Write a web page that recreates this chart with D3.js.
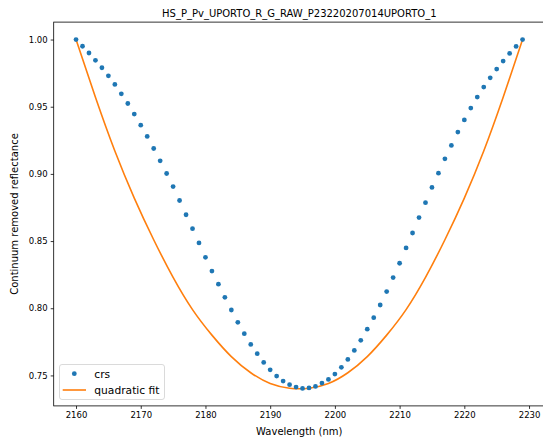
<!DOCTYPE html>
<html>
<head>
<meta charset="utf-8">
<script src="https://cdn.jsdelivr.net/npm/d3@7"></script>
<style>
  body { margin: 0; background: #fff; }
  svg { display: block; font-family: "DejaVu Sans", sans-serif; }
</style>
</head>
<body>
<div id="chart"></div>
<script>
// Wavelengths (nm) of the crs samples
const wavelengths = [
  2160, 2161, 2162, 2163, 2164, 2165, 2166, 2167, 2168, 2169,
  2170, 2171, 2172, 2173, 2174, 2175, 2176, 2177, 2178, 2179,
  2180, 2181, 2182, 2183, 2184, 2185, 2186, 2187, 2188, 2189,
  2190, 2191, 2192, 2193, 2194, 2195, 2196, 2197, 2198, 2199,
  2200, 2201, 2202, 2203, 2204, 2205, 2206, 2207, 2208, 2209,
  2210, 2211, 2212, 2213, 2214, 2215, 2216, 2217, 2218, 2219,
  2220, 2221, 2222, 2223, 2224, 2225, 2226, 2227, 2228, 2229
];

// Continuum removed reflectance
const crsValues = [
  1.000, 0.995, 0.990, 0.9845, 0.979, 0.973, 0.9666, 0.9596, 0.9524, 0.9445,
  0.9363, 0.9279, 0.9189, 0.9097, 0.9003, 0.8906, 0.8802, 0.8696, 0.8592, 0.8486,
  0.8379, 0.8277, 0.8179, 0.8081, 0.7987, 0.7895, 0.7811, 0.7731, 0.7662, 0.7597,
  0.7542, 0.7495, 0.7458, 0.7431, 0.7413, 0.7403, 0.7407, 0.7418, 0.7443, 0.7470,
  0.7510, 0.7560, 0.7619, 0.7686, 0.7761, 0.7844, 0.7930, 0.8024, 0.8124, 0.8228,
  0.8335, 0.8449, 0.8560, 0.8675, 0.8786, 0.8899, 0.9005, 0.9112, 0.9212, 0.9311,
  0.9402, 0.9490, 0.9572, 0.9646, 0.9715, 0.9780, 0.9840, 0.9897, 0.9949, 1.000
];

// Quadratic fit curve, every 3 nm
const fitWavelengths = [
  2160, 2163, 2166, 2169, 2172, 2175, 2178, 2181, 2184, 2187, 2190, 2193,
  2196, 2199, 2202, 2205, 2208, 2211, 2214, 2217, 2220, 2223, 2226, 2229
];
const fitValues = [
  1.000, 0.957, 0.917, 0.882, 0.851, 0.823, 0.799, 0.780, 0.764, 0.752, 0.744, 0.7405,
  0.7405, 0.744, 0.752, 0.764, 0.780, 0.799, 0.823, 0.851, 0.882, 0.917, 0.957, 1.000
];

const xTicks = [2160, 2170, 2180, 2190, 2200, 2210, 2220, 2230];
const yTicks = [0.75, 0.80, 0.85, 0.90, 0.95, 1.00];

const chartTitle = "HS_P_Pv_UPORTO_R_G_RAW_P23220207014UPORTO_1";
const xLabel = "Wavelength (nm)";
const yLabel = "Continuum removed reflectance";
const seriesNames = ["crs", "quadratic fit"];

// Layout
const W = 543, H = 444;
const plot = {left: 53.7, right: 544.9, top: 22.1, bottom: 405.9};
const blue = "#1f77b4", orange = "#ff7f0e";

const svg = d3.select("#chart").append("svg")
  .attr("width", W)
  .attr("height", H);

// matplotlib style 5% margins
const xExt = d3.extent(wavelengths);
const yExt = d3.extent(crsValues.concat(fitValues));
const xPad = (xExt[1] - xExt[0]) * 0.05;
const yPad = (yExt[1] - yExt[0]) * 0.05;

const x = d3.scaleLinear()
  .domain([xExt[0] - xPad, xExt[1] + xPad])
  .range([plot.left, plot.right]);
const y = d3.scaleLinear()
  .domain([yExt[0] - yPad, yExt[1] + yPad])
  .range([plot.bottom, plot.top]);

// Axes
const xAxis = svg.append("g")
  .attr("transform", `translate(0,${plot.bottom})`)
  .call(d3.axisBottom(x).tickValues(xTicks).tickFormat(d3.format("d")).tickSize(3).tickPadding(3));
const yAxis = svg.append("g")
  .attr("transform", `translate(${plot.left},0)`)
  .call(d3.axisLeft(y).tickValues(yTicks).tickFormat(d3.format(".2f")).tickSize(3).tickPadding(3));

[xAxis, yAxis].forEach(g => {
  g.select(".domain").remove();
  g.selectAll("text")
    .attr("font-family", "DejaVu Sans")
    .attr("font-size", 8.5)
    .attr("fill", "#000");
  g.selectAll("line").attr("stroke", "#000").attr("stroke-width", 0.8);
});

// Spines
svg.append("rect")
  .attr("x", plot.left)
  .attr("y", plot.top)
  .attr("width", plot.right - plot.left)
  .attr("height", plot.bottom - plot.top)
  .attr("fill", "none")
  .attr("stroke", "#000")
  .attr("stroke-width", 0.8);

// Fit line
const line = d3.line()
  .x((d, i) => x(fitWavelengths[i]))
  .y(d => y(d))
  .curve(d3.curveNatural);

svg.append("path")
  .datum(fitValues)
  .attr("d", line)
  .attr("fill", "none")
  .attr("stroke", orange)
  .attr("stroke-width", 1.6);

// crs points
svg.selectAll("circle.crs")
  .data(crsValues)
  .enter()
  .append("circle")
  .attr("class", "crs")
  .attr("cx", (d, i) => x(wavelengths[i]))
  .attr("cy", d => y(d))
  .attr("r", 2.4)
  .attr("fill", blue);

// Title
svg.append("text")
  .attr("x", (plot.left + plot.right) / 2)
  .attr("y", 16.5)
  .attr("text-anchor", "middle")
  .attr("font-size", 10)
  .text(chartTitle);

// Axis labels
svg.append("text")
  .attr("x", (plot.left + plot.right) / 2)
  .attr("y", 435)
  .attr("text-anchor", "middle")
  .attr("font-size", 10)
  .text(xLabel);

svg.append("text")
  .attr("transform", `translate(17.5,${(plot.top + plot.bottom) / 2}) rotate(-90)`)
  .attr("text-anchor", "middle")
  .attr("font-size", 10)
  .text(yLabel);

// Legend
const legend = svg.append("g").attr("transform", "translate(59.5,364.5)");
legend.append("rect")
  .attr("width", 105)
  .attr("height", 35)
  .attr("rx", 2.5)
  .attr("fill", "#fff")
  .attr("fill-opacity", 0.8)
  .attr("stroke", "#d0d0d0")
  .attr("stroke-width", 0.8);

legend.append("circle")
  .attr("cx", 14.8)
  .attr("cy", 9.2)
  .attr("r", 2.4)
  .attr("fill", blue);
legend.append("line")
  .attr("x1", 3.2).attr("x2", 26.5)
  .attr("y1", 25.5).attr("y2", 25.5)
  .attr("stroke", orange)
  .attr("stroke-width", 1.6);

legend.selectAll("text.entry")
  .data(seriesNames)
  .enter()
  .append("text")
  .attr("class", "entry")
  .attr("x", 34.8)
  .attr("y", (d, i) => 9.2 + i * 16.3 + 3.8)
  .attr("font-size", 10.7)
  .text(d => d);
</script>
</body>
</html>
